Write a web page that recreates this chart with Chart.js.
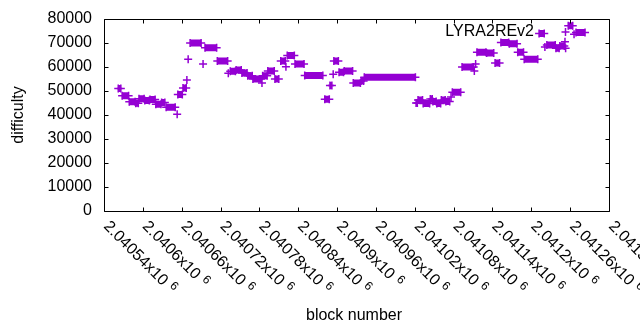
<!DOCTYPE html>
<html lang="en">
<head>
    <meta charset="UTF-8">
    <title>LYRA2REv2 difficulty</title>
    <script src="https://cdn.jsdelivr.net/npm/chart.js"></script>
    <style>
        html, body { margin: 0; padding: 0; background: #fff; }
        #wrap { width: 640px; height: 330px; }
    </style>
</head>
<body>
    <div id="wrap"><canvas id="diffChart" width="640" height="330"></canvas></div>

    <script>
        // runs of blocks that share one difficulty value (start block, end block, difficulty)
        const runStart = [2040562, 2040568, 2040579, 2040589, 2040594, 2040603, 2040611, 2040620, 2040629, 2040636,
                          2040653, 2040654, 2040662, 2040668, 2040670, 2040673, 2040693, 2040696, 2040715, 2040732,
                          2040735, 2040744, 2040753, 2040762, 2040770, 2040784, 2040785, 2040793, 2040804, 2040813,
                          2040821, 2040823, 2040835, 2040850, 2040881, 2040889, 2040894, 2040895, 2040903, 2040911,
                          2040925, 2040937, 2040942, 2041022, 2041025, 2041033, 2041044, 2041048, 2041054, 2041061,
                          2041068, 2041076, 2041078, 2041093, 2041112, 2041114, 2041116, 2041131, 2041144, 2041153,
                          2041166, 2041179, 2041189, 2041212, 2041221, 2041224, 2041238, 2041244, 2041252, 2041253,
                          2041257, 2041266, 2041269];
        const runEnd   = [2040566, 2040578, 2040588, 2040593, 2040602, 2040610, 2040619, 2040628, 2040634, 2040650,
                          2040653, 2040661, 2040667, 2040668, 2040670, 2040690, 2040693, 2040714, 2040731, 2040732,
                          2040743, 2040752, 2040761, 2040769, 2040783, 2040784, 2040792, 2040803, 2040810, 2040820,
                          2040821, 2040834, 2040849, 2040878, 2040888, 2040892, 2040894, 2040902, 2040910, 2040924,
                          2040936, 2040941, 2041021, 2041024, 2041032, 2041043, 2041047, 2041053, 2041060, 2041067,
                          2041074, 2041076, 2041091, 2041111, 2041112, 2041114, 2041130, 2041142, 2041151, 2041165,
                          2041178, 2041188, 2041210, 2041220, 2041221, 2041237, 2041243, 2041251, 2041252, 2041253,
                          2041264, 2041266, 2041283];
        const runDifficulty = [51000, 48000, 45500, 44900, 46800, 46000, 46500, 44500, 45200, 43200,
                               40300, 48500, 51200, 54600, 63200, 70000, 61200, 68000, 62500, 57400,
                               58200, 58800, 57500, 56400, 55000, 53300, 56400, 58300, 55000, 62500,
                               60100, 64800, 61200, 56500, 46600, 52300, 57000, 62500, 57800, 58300,
                               53300, 54200, 55700, 45000, 46200, 44800, 46700, 45600, 44800, 46300,
                               45600, 47500, 49500, 60000, 58300, 61200, 66100, 65800, 61700, 70200,
                               69700, 66100, 63200, 74000, 68300, 69200, 67800, 68700, 70500, 67800,
                               77200, 73600, 74400];

        const xTickValues = [2040540, 2040600, 2040660, 2040720, 2040780, 2040840, 2040900,
                             2040960, 2041020, 2041080, 2041140, 2041200, 2041260, 2041320];
        const xTickLabels = ['2.04054x10', '2.0406x10', '2.04066x10', '2.04072x10', '2.04078x10', '2.04084x10', '2.0409x10',
                             '2.04096x10', '2.04102x10', '2.04108x10', '2.04114x10', '2.0412x10', '2.04126x10', '2.04132x10'];
        const yTickValues = [0, 10000, 20000, 30000, 40000, 50000, 60000, 70000, 80000];
        const yTickLabels = ['0', '10000', '20000', '30000', '40000', '50000', '60000', '70000', '80000'];

        const seriesName = 'LYRA2REv2';
        const purple = '#9400d3';
        const FONT = '"Liberation Sans", Arial, sans-serif';

        // each run becomes two points joined by a thick stroke; a null breaks the line between runs
        const points = [];
        for (let i = 0; i < runStart.length; i++) {
            points.push({ x: runStart[i], y: runDifficulty[i] });
            if (runEnd[i] !== runStart[i]) points.push({ x: runEnd[i], y: runDifficulty[i] });
            points.push({ x: runEnd[i], y: null });
        }

        // gnuplot-style frame, mirrored inward ticks, rotated tick labels, titles and key
        const gnuplotFrame = {
            id: 'gnuplotFrame',
            afterDraw(chart) {
                const ctx = chart.ctx;
                const xs = chart.scales.x, ys = chart.scales.y;
                const a = chart.chartArea;
                const L = Math.round(a.left) + 0.5, R = Math.round(a.right) + 0.5;
                const T = Math.round(a.top) + 0.5, B = Math.round(a.bottom) + 0.5;
                ctx.save();
                ctx.strokeStyle = '#000';
                ctx.lineWidth = 1;
                ctx.beginPath();
                ctx.rect(L, T, R - L, B - T);
                yTickValues.forEach(v => {
                    const y = Math.round(ys.getPixelForValue(v)) + 0.5;
                    ctx.moveTo(L, y); ctx.lineTo(L + 4, y);
                    ctx.moveTo(R, y); ctx.lineTo(R - 4, y);
                });
                xTickValues.forEach(v => {
                    const x = Math.round(xs.getPixelForValue(v)) + 0.5;
                    ctx.moveTo(x, B); ctx.lineTo(x, B - 4);
                    ctx.moveTo(x, T); ctx.lineTo(x, T + 4);
                });
                ctx.stroke();

                ctx.fillStyle = '#000';
                ctx.font = '16px ' + FONT;
                ctx.textAlign = 'right';
                ctx.textBaseline = 'middle';
                yTickValues.forEach((v, i) => {
                    ctx.fillText(yTickLabels[i], 92, ys.getPixelForValue(v));
                });

                xTickValues.forEach((v, i) => {
                    const x = xs.getPixelForValue(v);
                    ctx.save();
                    ctx.translate(x + 2, a.bottom + 13);
                    ctx.rotate(Math.PI / 4);
                    ctx.textAlign = 'left';
                    ctx.font = '16px ' + FONT;
                    ctx.fillText(xTickLabels[i], 0, 0);
                    const w = ctx.measureText(xTickLabels[i]).width;
                    ctx.font = '12px ' + FONT;
                    ctx.fillText('6', w + 5, -4);
                    ctx.restore();
                });

                ctx.font = '16px ' + FONT;
                ctx.textAlign = 'center';
                ctx.textBaseline = 'alphabetic';
                ctx.fillText('block number', 354, 320);
                ctx.save();
                ctx.translate(23, 115);
                ctx.rotate(-Math.PI / 2);
                ctx.fillText('difficulty', 0, 0);
                ctx.restore();

                // key
                ctx.textAlign = 'right';
                ctx.textBaseline = 'middle';
                ctx.fillText(seriesName, 534, 32);
                ctx.strokeStyle = purple;
                ctx.lineWidth = 1.5;
                ctx.beginPath();
                ctx.moveTo(561.5, 32); ctx.lineTo(569.5, 32);
                ctx.moveTo(565.5, 28); ctx.lineTo(565.5, 36);
                ctx.stroke();
                ctx.restore();
            }
        };

        new Chart(document.getElementById('diffChart').getContext('2d'), {
            type: 'scatter',
            data: {
                datasets: [{
                    label: seriesName,
                    data: points,
                    showLine: true,
                    spanGaps: false,
                    borderColor: purple,
                    borderWidth: 7,
                    borderCapStyle: 'butt',
                    backgroundColor: purple,
                    pointStyle: 'cross',
                    pointRadius: 4,
                    pointBorderWidth: 1.5,
                    pointBorderColor: purple
                }]
            },
            options: {
                responsive: false,
                animation: false,
                layout: { padding: { left: 104, right: 31, top: 19, bottom: 119 } },
                scales: {
                    x: { type: 'linear', min: 2040540, max: 2041320, display: false },
                    y: { type: 'linear', min: 0, max: 80000, display: false }
                },
                plugins: {
                    legend: { display: false },
                    tooltip: { enabled: false }
                }
            },
            plugins: [gnuplotFrame]
        });
    </script>
</body>
</html>
